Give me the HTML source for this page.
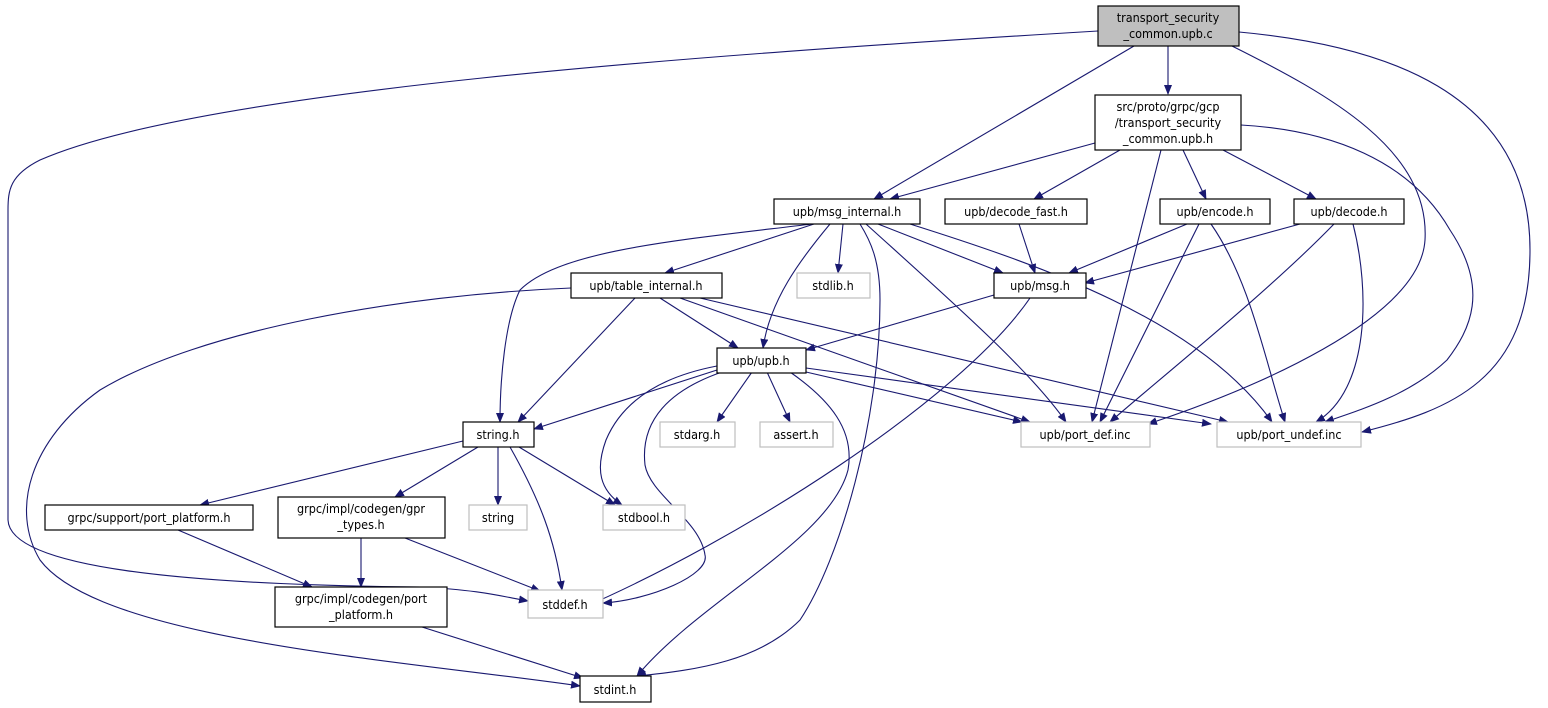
<!DOCTYPE html>
<html><head><meta charset="utf-8"><style>
html,body{margin:0;padding:0;background:#fff;}
svg{display:block;}
text{font-family:"DejaVu Sans Condensed","Liberation Sans",sans-serif;font-size:12.5px;fill:#000;text-anchor:middle;}
.n{fill:#fff;stroke:#000;stroke-width:1.2;}
.g{fill:#fff;stroke:#bfbfbf;stroke-width:1.2;}
.e{fill:none;stroke:#191970;stroke-width:1.1;marker-end:url(#a);}
</style></head><body>
<svg width="1548" height="708" viewBox="0 0 1548 708" xmlns="http://www.w3.org/2000/svg">
<defs><marker id="a" markerWidth="10" markerHeight="8" refX="9" refY="4" orient="auto" markerUnits="userSpaceOnUse"><path d="M0,0 L10,4 L0,8 z" fill="#191970"/></marker></defs>

<!-- root -->
<path class="e" d="M1168,46 L1168,94"/>
<path class="e" d="M1134,46 L874,199"/>
<path class="e" d="M1098,31 C700,55 200,90 40,160 C10,175 8,190 8,210 L8,520 C10,570 200,585 420,587 C480,590 500,596 528,601"/>
<path class="e" d="M1232,46 C1330,95 1430,150 1425,240 C1420,320 1250,390 1148,424"/>
<path class="e" d="M1239,32 C1380,45 1530,90 1530,250 C1530,380 1450,410 1362,432"/>
<!-- header -->
<path class="e" d="M1095,143 L890,199"/>
<path class="e" d="M1120,150 L1034,199"/>
<path class="e" d="M1183,150 L1206,199"/>
<path class="e" d="M1223,150 L1316,199"/>
<path class="e" d="M1161,150 L1092,422"/>
<path class="e" d="M1241,125 C1330,130 1410,160 1450,230 C1490,290 1470,330 1447,360 C1410,395 1360,410 1325,422"/>
<!-- msg_internal -->
<path class="e" d="M814,224 L665,273"/>
<path class="e" d="M843,224 L838,273"/>
<path class="e" d="M878,224 L1003,273"/>
<path class="e" d="M830,224 C800,260 770,300 763,348"/>
<path class="e" d="M812,224 C680,240 560,250 520,290 C505,320 500,380 500,422"/>
<path class="e" d="M860,224 C870,240 880,260 880,300 C880,420 840,560 800,620 C760,660 700,670 637,676"/>
<path class="e" d="M866,224 C950,300 1030,370 1066,422"/>
<path class="e" d="M910,224 C1040,265 1200,320 1272,422"/>
<!-- decode_fast, encode, decode -->
<path class="e" d="M1019,224 L1035,273"/>
<path class="e" d="M1187,224 L1069,273"/>
<path class="e" d="M1199,224 L1100,422"/>
<path class="e" d="M1211,224 C1250,280 1265,360 1285,422"/>
<path class="e" d="M1300,224 L1085,283"/>
<path class="e" d="M1334,224 C1270,290 1170,370 1110,422"/>
<path class="e" d="M1353,224 C1370,290 1370,390 1316,422"/>
<!-- table_internal -->
<path class="e" d="M635,298 L518,422"/>
<path class="e" d="M660,298 L738,348"/>
<path class="e" d="M680,298 L1030,422"/>
<path class="e" d="M700,298 L1228,422"/>
<path class="e" d="M571,288 C400,295 200,330 100,390 C30,440 10,510 40,560 C100,640 400,660 580,686"/>
<!-- msg.h -->
<path class="e" d="M994,295 L806,350"/>
<path class="e" d="M1030,298 C960,400 740,540 580,609"/>
<!-- upb.h -->
<path class="e" d="M717,370 L534,429"/>
<path class="e" d="M752,372 L717,422"/>
<path class="e" d="M767,372 L790,422"/>
<path class="e" d="M806,372 L1022,422"/>
<path class="e" d="M806,368 L1211,424"/>
<path class="e" d="M717,366 C670,375 625,395 606,440 C595,470 600,490 622,505"/>
<path class="e" d="M722,372 C670,390 640,420 645,465 C650,495 700,520 705,555 C710,575 650,600 603,603"/>
<path class="e" d="M790,372 C830,400 855,430 848,470 C830,540 700,600 637,676"/>
<!-- string.h -->
<path class="e" d="M463,441 L200,505"/>
<path class="e" d="M478,447 L395,497"/>
<path class="e" d="M498,447 L498,505"/>
<path class="e" d="M510,447 C540,500 555,540 562,590"/>
<path class="e" d="M519,447 L615,505"/>
<!-- support port_platform, gpr_types -->
<path class="e" d="M178,530 L312,587"/>
<path class="e" d="M361,538 L361,587"/>
<path class="e" d="M405,538 L540,591"/>
<!-- codegen port_platform -->
<path class="e" d="M422,627 L583,678"/>

<!-- nodes -->
<rect x="1098" y="6" width="141" height="40" fill="#bfbfbf" stroke="#000" stroke-width="1.2"/>
<text x="1168" y="22">transport_security</text><text x="1168" y="38">_common.upb.c</text>

<rect class="n" x="1095" y="95" width="146" height="55"/>
<text x="1168" y="111">src/proto/grpc/gcp</text><text x="1168" y="127">/transport_security</text><text x="1168" y="143">_common.upb.h</text>

<rect class="n" x="774" y="199" width="146" height="25"/><text x="847" y="216">upb/msg_internal.h</text>
<rect class="n" x="945" y="199" width="142" height="25"/><text x="1016" y="216">upb/decode_fast.h</text>
<rect class="n" x="1160" y="199" width="110" height="25"/><text x="1215" y="216">upb/encode.h</text>
<rect class="n" x="1294" y="199" width="110" height="25"/><text x="1349" y="216">upb/decode.h</text>

<rect class="n" x="571" y="273" width="151" height="25"/><text x="646" y="290">upb/table_internal.h</text>
<rect class="g" x="797" y="273" width="73" height="25"/><text x="833" y="290">stdlib.h</text>
<rect class="n" x="994" y="273" width="92" height="25"/><text x="1040" y="290">upb/msg.h</text>

<rect class="n" x="717" y="348" width="89" height="25"/><text x="761" y="365">upb/upb.h</text>

<rect class="n" x="463" y="422" width="71" height="25"/><text x="498" y="439">string.h</text>
<rect class="g" x="660" y="422" width="75" height="25"/><text x="697" y="439">stdarg.h</text>
<rect class="g" x="760" y="422" width="73" height="25"/><text x="796" y="439">assert.h</text>
<rect class="g" x="1021" y="422" width="129" height="25"/><text x="1085" y="439">upb/port_def.inc</text>
<rect class="g" x="1217" y="422" width="144" height="25"/><text x="1289" y="439">upb/port_undef.inc</text>

<rect class="n" x="45" y="505" width="208" height="25"/><text x="149" y="522">grpc/support/port_platform.h</text>
<rect class="n" x="278" y="497" width="167" height="41"/><text x="361" y="513">grpc/impl/codegen/gpr</text><text x="361" y="529">_types.h</text>
<rect class="g" x="469" y="505" width="58" height="25"/><text x="498" y="522">string</text>
<rect class="g" x="603" y="505" width="82" height="25"/><text x="644" y="522">stdbool.h</text>

<rect class="n" x="275" y="587" width="172" height="40"/><text x="361" y="603">grpc/impl/codegen/port</text><text x="361" y="619">_platform.h</text>
<rect class="g" x="528" y="590" width="75" height="28"/><text x="565" y="609">stddef.h</text>

<rect class="n" x="580" y="676" width="71" height="26"/><text x="615" y="694">stdint.h</text>
</svg>
</body></html>
